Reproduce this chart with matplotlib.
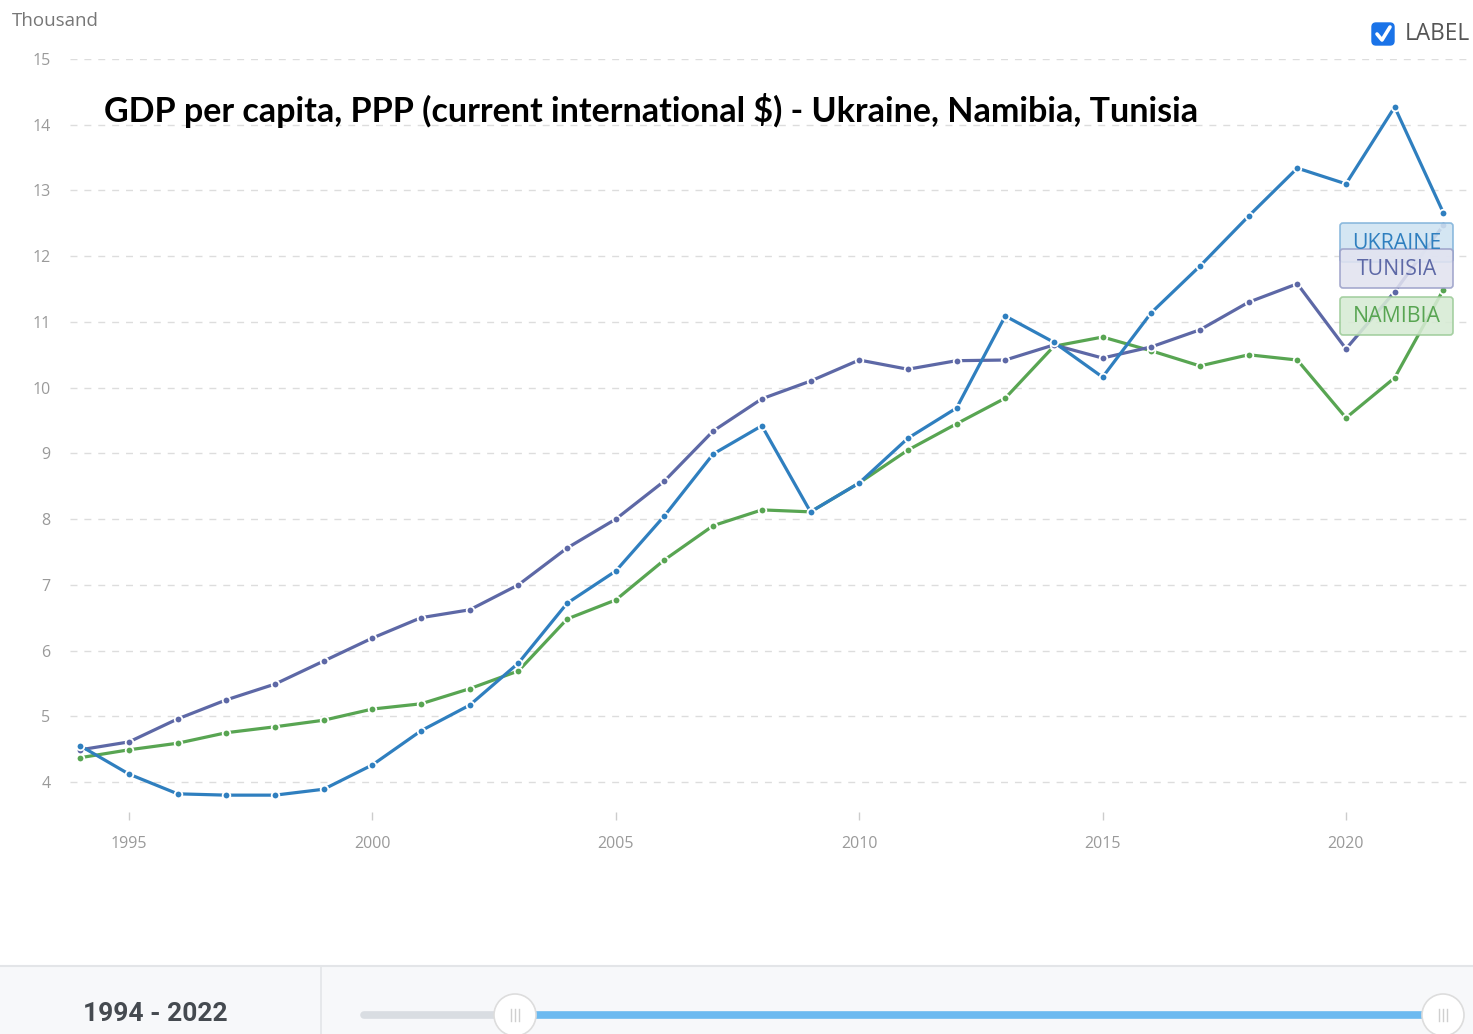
import matplotlib
matplotlib.use("Agg")
import matplotlib.pyplot as plt
from matplotlib.patches import FancyBboxPatch, Rectangle, Circle

years = list(range(1994, 2023))
ukraine = [4.55, 4.12, 3.82, 3.80, 3.80, 3.89, 4.26, 4.78, 5.17, 5.81, 6.72, 7.21, 8.05, 8.99, 9.42,
           8.11, 8.55, 9.23, 9.69, 11.09, 10.69, 10.16, 11.14, 11.85, 12.61, 13.34, 13.10, 14.27, 12.66]
tunisia = [4.49, 4.61, 4.96, 5.25, 5.49, 5.84, 6.19, 6.50, 6.62, 7.00, 7.56, 8.00, 8.58, 9.34, 9.83,
           10.10, 10.42, 10.28, 10.41, 10.42, 10.65, 10.45, 10.62, 10.88, 11.30, 11.58, 10.59, 11.46, 12.47]
namibia = [4.37, 4.49, 4.59, 4.75, 4.84, 4.94, 5.11, 5.19, 5.42, 5.69, 6.48, 6.77, 7.38, 7.90, 8.14,
           8.11, 8.55, 9.05, 9.45, 9.84, 10.63, 10.77, 10.56, 10.33, 10.50, 10.42, 9.54, 10.15, 11.49]
series_names = ["UKRAINE", "TUNISIA", "NAMIBIA"]
xticks = [1995, 2000, 2005, 2010, 2015, 2020]
yticks = list(range(4, 16))
title = "GDP per capita, PPP (current international $) - Ukraine, Namibia, Tunisia"
range_label = "1994 - 2022"

C_UKR = "#2f7fbf"
C_TUN = "#5d68a6"
C_NAM = "#58a552"

W, H = 1473, 1034
fig = plt.figure(figsize=(W / 100, H / 100), dpi=100)

def fx(px):
    return px / W

def fy(py):
    return 1 - py / H

# main axes: left 70px, right 1473px; top at y=15 (59px), bottom 812px
ax_left, ax_right, ax_top, ax_bot = 70, 1473, 59, 812
ax = fig.add_axes([fx(ax_left), fy(ax_bot), (ax_right - ax_left) / W, (ax_bot - ax_top) / H])
ppy = (782 - 59) / 11.0
ax.set_ylim(15 - (ax_bot - 59) / ppy, 15)
ppx = (1346 - 129) / 25.0
ax.set_xlim(1995 - (129 - ax_left) / ppx, 1995 + (ax_right - 129) / ppx)

for s in ax.spines.values():
    s.set_visible(False)
ax.set_yticks(yticks)
ax.set_yticklabels([str(v) for v in yticks])
ax.set_xticks(xticks)
ax.set_xticklabels([str(v) for v in xticks])
ax.tick_params(axis="y", length=0, pad=14, labelsize=11.5, labelcolor="#9a9a9a")
ax.tick_params(axis="x", length=6, width=1, color="#cccccc", direction="out", pad=11,
               labelsize=11.5, labelcolor="#9a9a9a")
for lab in ax.get_xticklabels() + ax.get_yticklabels():
    lab.set_fontfamily("Open Sans")
ax.grid(axis="y", color="#dddddd", linestyle=(0, (5, 5)), linewidth=1)
ax.set_axisbelow(True)

for vals, col in [(namibia, C_NAM), (tunisia, C_TUN), (ukraine, C_UKR)]:
    ax.plot(years, vals, color=col, linewidth=2.3, marker="o", markersize=5.5,
            markerfacecolor=col, markeredgecolor="white", markeredgewidth=1.3, zorder=3,
            solid_joinstyle="round")

# overlay for text and decorations in pixel coords
ov = fig.add_axes([0, 0, 1, 1], zorder=5)
ov.set_xlim(0, W)
ov.set_ylim(H, 0)
ov.axis("off")
ov.patch.set_alpha(0)

ov.text(12, 21, "Thousand", fontsize=13.5, color="#777777", family="Open Sans", va="center", ha="left")
ov.text(104, 111, title, fontsize=24.5, fontweight="bold", color="#000000", family="Lato",
        va="center", ha="left")

# checkbox
ov.add_patch(FancyBboxPatch((1372, 23), 22, 22, boxstyle="round,pad=0,rounding_size=4",
                            facecolor="#1a73e8", edgecolor="#1a73e8", linewidth=1))
ov.plot([1377, 1382, 1390], [34, 40, 27], color="white", linewidth=2.6, solid_capstyle="round",
        solid_joinstyle="round")
ov.text(1405, 34, "LABEL", fontsize=16.3, color="#555555", family="Open Sans", va="center", ha="left")

# end labels
for (name, y0, y1, fc, ec, tc) in [
    ("UKRAINE", 223, 262, "#cfe3f2", "#7fb2da", C_UKR),
    ("TUNISIA", 249, 288, "#e2e3f0", "#9a9fc8", C_TUN),
    ("NAMIBIA", 297, 335, "#d7ebd4", "#9ccb98", C_NAM),
]:
    ov.add_patch(FancyBboxPatch((1340, y0), 113, y1 - y0, boxstyle="round,pad=0,rounding_size=3",
                                facecolor=fc, edgecolor=ec, linewidth=1.2, alpha=0.88))
    ov.text(1397, (y0 + y1) / 2 + 1, name, fontsize=15.3, color=tc, family="Open Sans",
            va="center", ha="center")

# bottom panel
ov.add_patch(Rectangle((0, 966), W, H - 966, facecolor="#f7f8fa", edgecolor="none"))
ov.plot([0, W], [966, 966], color="#e3e5e8", linewidth=1.5)
ov.plot([321, 321], [966, H], color="#e3e5e8", linewidth=1.2)
ov.text(155, 1014, range_label, fontsize=19, fontweight="bold", color="#454a50",
        family="Roboto", va="center", ha="center")
ov.plot([364, 515], [1015, 1015], color="#d9dde2", linewidth=5.5, solid_capstyle="round")
ov.plot([515, 1443], [1015, 1015], color="#6cbaf0", linewidth=5.5, solid_capstyle="butt")
for cx in (515, 1443):
    ov.add_patch(Circle((cx, 1015), 21, facecolor="white", edgecolor="#dddddd", linewidth=1.2,
                        zorder=6))
    for dx in (-4, 0, 4):
        ov.plot([cx + dx, cx + dx], [1009, 1021], color="#cfcfcf", linewidth=1, zorder=7)

fig.savefig("out.png", dpi=100)
